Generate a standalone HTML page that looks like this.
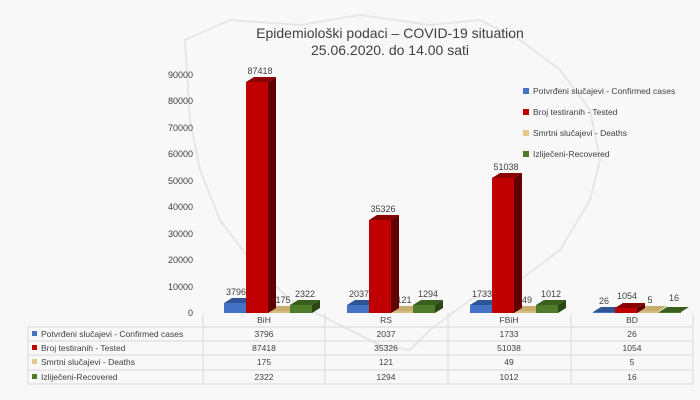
<!DOCTYPE html>
<html><head><meta charset="utf-8"><style>
body{margin:0;background:#f7f7f7;}
svg{display:block;font-family:"Liberation Sans",sans-serif;}
</style></head><body>
<svg width="700" height="400" viewBox="0 0 700 400">
<rect width="700" height="400" fill="#f8f8f8"/>
<path d="M185 40 L230 20 L300 25 L360 15 L430 25 L480 20 L520 40 L560 70 L590 110 L600 160 L590 200 L560 250 L520 280 L470 300 L430 330 L410 350 L380 345 L330 320 L290 300 L250 260 L220 220 L200 170 L190 120 Z" fill="none" stroke="#e6e6e6" stroke-width="2"/>
<text x="390" y="38" font-size="14" text-anchor="middle" fill="#404040">Epidemiološki podaci – COVID-19 situation</text>
<text x="390" y="55" font-size="14" text-anchor="middle" fill="#404040">25.06.2020. do 14.00 sati</text>
<g font-size="9" fill="#404040" text-anchor="end">
<text x="193" y="78">90000</text><text x="193" y="104">80000</text><text x="193" y="131">70000</text><text x="193" y="157">60000</text><text x="193" y="184">50000</text><text x="193" y="210">40000</text><text x="193" y="237">30000</text><text x="193" y="263">20000</text><text x="193" y="290">10000</text><text x="193" y="316">0</text>
</g>
<defs>
<g id="b"><rect x="0" y="0" width="22" height="1" fill="#4472c4"/></g>
</defs>
<g font-size="9" fill="#404040" text-anchor="middle">
<!-- BiH -->
<polygon points="224,303 232,298 254,298 246,303" fill="#2f5597"/><polygon points="246,303 254,298 254,308 246,313" fill="#35589a"/><rect x="224" y="303" width="22" height="10" fill="#4472c4"/><text x="236" y="295">3796</text>
<polygon points="268,311 276,306 298,306 290,311" fill="#c9ad6e"/><polygon points="290,311 298,306 298,308 290,313" fill="#a88d50"/><rect x="268" y="311" width="22" height="2" fill="#d8bd80"/><text x="283" y="303">175</text>
<polygon points="290,305 298,300 320,300 312,305" fill="#3a5e1e"/><polygon points="312,305 320,300 320,308 312,313" fill="#2a4614"/><rect x="290" y="305" width="22" height="8" fill="#4e7a2a"/><text x="305" y="297">2322</text>
<polygon points="246,82 254,77 276,77 268,82" fill="#8b0000"/><polygon points="268,82 276,77 276,308 268,313" fill="#600000"/><rect x="246" y="82" width="22" height="231" fill="#c00000"/><text x="260" y="74">87418</text>
<!-- RS -->
<polygon points="347,305 355,300 377,300 369,305" fill="#2f5597"/><rect x="347" y="305" width="22" height="8" fill="#4472c4"/><text x="359" y="297">2037</text>
<polygon points="391,311 399,306 421,306 413,311" fill="#c9ad6e"/><rect x="391" y="311" width="22" height="2" fill="#d8bd80"/><text x="404" y="303">121</text>
<polygon points="413,305 421,300 443,300 435,305" fill="#3a5e1e"/><polygon points="435,305 443,300 443,308 435,313" fill="#2a4614"/><rect x="413" y="305" width="22" height="8" fill="#4e7a2a"/><text x="428" y="297">1294</text>
<polygon points="369,220 377,215 399,215 391,220" fill="#8b0000"/><polygon points="391,220 399,215 399,308 391,313" fill="#600000"/><rect x="369" y="220" width="22" height="93" fill="#c00000"/><text x="383" y="212">35326</text>
<!-- FBiH -->
<polygon points="470,305 478,300 500,300 492,305" fill="#2f5597"/><rect x="470" y="305" width="22" height="8" fill="#4472c4"/><text x="482" y="297">1733</text>
<polygon points="514,311 522,306 544,306 536,311" fill="#c9ad6e"/><rect x="514" y="311" width="22" height="2" fill="#d8bd80"/><text x="527" y="303">49</text>
<polygon points="536,305 544,300 566,300 558,305" fill="#3a5e1e"/><polygon points="558,305 566,300 566,308 558,313" fill="#2a4614"/><rect x="536" y="305" width="22" height="8" fill="#4e7a2a"/><text x="551" y="297">1012</text>
<polygon points="492,178 500,173 522,173 514,178" fill="#8b0000"/><polygon points="514,178 522,173 522,308 514,313" fill="#600000"/><rect x="492" y="178" width="22" height="135" fill="#c00000"/><text x="506" y="170">51038</text>
<!-- BD -->
<polygon points="593,312 601,307 623,307 615,312" fill="#2f5597"/><rect x="593" y="312" width="22" height="1" fill="#4472c4"/><text x="604" y="304">26</text>
<polygon points="637,311 645,306 667,306 659,311" fill="#c9ad6e"/><rect x="637" y="311" width="22" height="2" fill="#d8bd80"/><text x="650" y="303">5</text>
<polygon points="659,312 667,307 689,307 681,312" fill="#3a5e1e"/><rect x="659" y="312" width="22" height="1" fill="#4e7a2a"/><text x="674" y="301">16</text>
<polygon points="615,308 623,303 645,303 637,308" fill="#8b0000"/><polygon points="637,308 645,303 645,308 637,313" fill="#600000"/><rect x="615" y="308" width="22" height="5" fill="#c00000"/><text x="627" y="299">1054</text>
</g>
<!-- legend -->
<g font-size="8.5" fill="#404040">
<rect x="523" y="88" width="6" height="6" fill="#4472c4"/><text x="533" y="94">Potvrđeni slučajevi - Confirmed cases</text>
<rect x="523" y="109" width="6" height="6" fill="#c00000"/><text x="533" y="115">Broj testiranih - Tested</text>
<rect x="523" y="130" width="6" height="6" fill="#e6c98a"/><text x="533" y="136">Smrtni slučajevi - Deaths</text>
<rect x="523" y="151" width="6" height="6" fill="#4e7a2a"/><text x="533" y="157">Izliječeni-Recovered</text>
</g>
<!-- table -->
<g stroke="#d9d9d9" stroke-width="1" fill="none">
<line x1="203" y1="313" x2="203" y2="384"/><line x1="325" y1="313" x2="325" y2="384"/><line x1="448" y1="313" x2="448" y2="384"/><line x1="571" y1="313" x2="571" y2="384"/><line x1="693" y1="313" x2="693" y2="384"/>
<line x1="28" y1="327" x2="28" y2="384"/>
<line x1="28" y1="327" x2="693" y2="327"/><line x1="28" y1="341" x2="693" y2="341"/><line x1="28" y1="355" x2="693" y2="355"/><line x1="28" y1="370" x2="693" y2="370"/><line x1="28" y1="384" x2="693" y2="384"/>
</g>
<g font-size="8.5" fill="#404040">
<rect x="32" y="331" width="5" height="5" fill="#4472c4"/><text x="41" y="337">Potvrđeni slučajevi - Confirmed cases</text>
<rect x="32" y="345" width="5" height="5" fill="#c00000"/><text x="41" y="351">Broj testiranih - Tested</text>
<rect x="32" y="359" width="5" height="5" fill="#e6c98a"/><text x="41" y="365">Smrtni slučajevi - Deaths</text>
<rect x="32" y="374" width="5" height="5" fill="#4e7a2a"/><text x="41" y="380">Izliječeni-Recovered</text>
</g>
<g font-size="8.5" fill="#404040" text-anchor="middle">
<text x="264" y="323">BiH</text><text x="386" y="323">RS</text><text x="509" y="323">FBiH</text><text x="632" y="323">BD</text>
<text x="264" y="337">3796</text><text x="386" y="337">2037</text><text x="509" y="337">1733</text><text x="632" y="337">26</text>
<text x="264" y="351">87418</text><text x="386" y="351">35326</text><text x="509" y="351">51038</text><text x="632" y="351">1054</text>
<text x="264" y="365">175</text><text x="386" y="365">121</text><text x="509" y="365">49</text><text x="632" y="365">5</text>
<text x="264" y="380">2322</text><text x="386" y="380">1294</text><text x="509" y="380">1012</text><text x="632" y="380">16</text>
</g>
</svg>
</body></html>
